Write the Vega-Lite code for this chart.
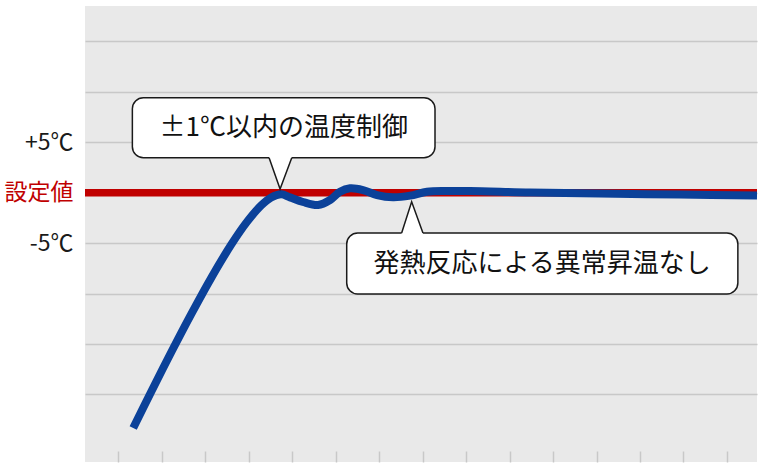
{
  "$schema": "https://vega.github.io/schema/vega-lite/v6.json",
  "width": 672,
  "height": 456,
  "autosize": "none",
  "padding": {"left": 85, "top": 6, "right": 3, "bottom": 8},
  "config": {
    "view": {"fill": "#e9e9e9", "stroke": null},
    "font": "Noto Sans CJK JP"
  },
  "datasets": {
    "curve": [
      {"t": 0.348, "temp": -23.33},
      {"t": 0.762, "temp": -19.73},
      {"t": 1.222, "temp": -15.82},
      {"t": 1.682, "temp": -12.04},
      {"t": 2.141, "temp": -8.45},
      {"t": 2.601, "temp": -5.16},
      {"t": 2.946, "temp": -3.0},
      {"t": 3.291, "temp": -1.27},
      {"t": 3.521, "temp": -0.48},
      {"t": 3.75, "temp": -0.17},
      {"t": 3.954, "temp": -0.47},
      {"t": 4.253, "temp": -0.93},
      {"t": 4.598, "temp": -1.23},
      {"t": 4.874, "temp": -0.73},
      {"t": 5.103, "temp": 0.09},
      {"t": 5.333, "temp": 0.43},
      {"t": 5.632, "temp": 0.26},
      {"t": 5.954, "temp": -0.24},
      {"t": 6.322, "temp": -0.46},
      {"t": 6.713, "temp": -0.3},
      {"t": 7.103, "temp": 0.09},
      {"t": 7.563, "temp": 0.16},
      {"t": 8.09, "temp": 0.16},
      {"t": 9.47, "temp": 0.01},
      {"t": 11.08, "temp": -0.09},
      {"t": 12.92, "temp": -0.19},
      {"t": 14.69, "temp": -0.29}
    ],
    "setpoint": [{"temp": 0}],
    "callouts": [
      {"id": "a", "x": 0.329, "x2": 7.287, "y": 9.41, "y2": 3.46, "tx": 3.81, "ty": 6.44, "label": "±1℃以内の温度制御"},
      {"id": "b", "x": 5.257, "x2": 14.25, "y": -4.0, "y2": -10.05, "tx": 9.75, "ty": -7.03, "label": "発熱反応による異常昇温なし"}
    ],
    "pointers": [
      {"id": "a", "x": 3.472, "y": 3.46, "inner": 3.62},
      {"id": "a", "x": 3.725, "y": 0.36, "inner": 3.62},
      {"id": "a", "x": 3.994, "y": 3.46, "inner": 3.62},
      {"id": "b", "x": 6.52, "y": -4.0, "inner": -4.16},
      {"id": "b", "x": 6.75, "y": -0.9, "inner": -4.16},
      {"id": "b", "x": 7.01, "y": -4.0, "inner": -4.16}
    ]
  },
  "layer": [
    {
      "data": {"name": "setpoint"},
      "mark": {"type": "rule", "color": "#c00000", "strokeWidth": 7.5},
      "encoding": {
        "y": {
          "field": "temp",
          "type": "quantitative",
          "scale": {"domain": [-26.7, 18.5], "nice": false, "zero": false},
          "axis": {
            "values": [-20, -15, -10, -5, 0, 5, 10, 15],
            "labelExpr": "datum.value == 5 ? '+5℃' : datum.value == -5 ? '-5℃' : datum.value == 0 ? '設定値' : ''",
            "labelFontSize": 23,
            "labelColor": {"condition": {"test": "datum.value == 0", "value": "#c00000"}, "value": "#1a1a1a"},
            "labelPadding": 12,
            "labelBaseline": "middle",
            "ticks": false,
            "domain": false,
            "grid": true,
            "gridColor": "#c8c8c8",
            "gridWidth": 1.5,
            "title": null
          }
        }
      }
    },
    {
      "data": {"name": "curve"},
      "mark": {"type": "line", "color": "#0b4199", "strokeWidth": 8, "interpolate": "catmull-rom", "clip": true},
      "encoding": {
        "x": {
          "field": "t",
          "type": "quantitative",
          "scale": {"domain": [-0.76, 14.69], "nice": false, "zero": false},
          "axis": {
            "values": [0, 1, 2, 3, 4, 5, 6, 7, 8, 9, 10, 11, 12, 13, 14],
            "labels": false,
            "domain": false,
            "grid": false,
            "tickSize": -11,
            "tickColor": "#c8c8c8",
            "tickWidth": 1.5,
            "title": null
          }
        },
        "y": {"field": "temp", "type": "quantitative"}
      }
    },
    {
      "data": {"name": "callouts"},
      "mark": {"type": "rect", "fill": "white", "stroke": "#1a1a1a", "strokeWidth": 1.5, "cornerRadius": 11},
      "encoding": {
        "x": {"field": "x", "type": "quantitative"},
        "x2": {"field": "x2"},
        "y": {"field": "y", "type": "quantitative"},
        "y2": {"field": "y2"}
      }
    },
    {
      "data": {"name": "pointers"},
      "mark": {"type": "area", "color": "white", "opacity": 1},
      "encoding": {
        "x": {"field": "x", "type": "quantitative"},
        "y": {"field": "y", "type": "quantitative"},
        "y2": {"field": "inner"},
        "detail": {"field": "id"}
      }
    },
    {
      "data": {"name": "pointers"},
      "mark": {"type": "line", "color": "#1a1a1a", "strokeWidth": 1.5},
      "encoding": {
        "x": {"field": "x", "type": "quantitative"},
        "y": {"field": "y", "type": "quantitative"},
        "detail": {"field": "id"}
      }
    },
    {
      "data": {"name": "callouts"},
      "mark": {"type": "text", "fontSize": 26, "color": "#111", "baseline": "middle", "align": "center"},
      "encoding": {
        "x": {"field": "tx", "type": "quantitative"},
        "y": {"field": "ty", "type": "quantitative"},
        "text": {"field": "label"}
      }
    }
  ]
}
